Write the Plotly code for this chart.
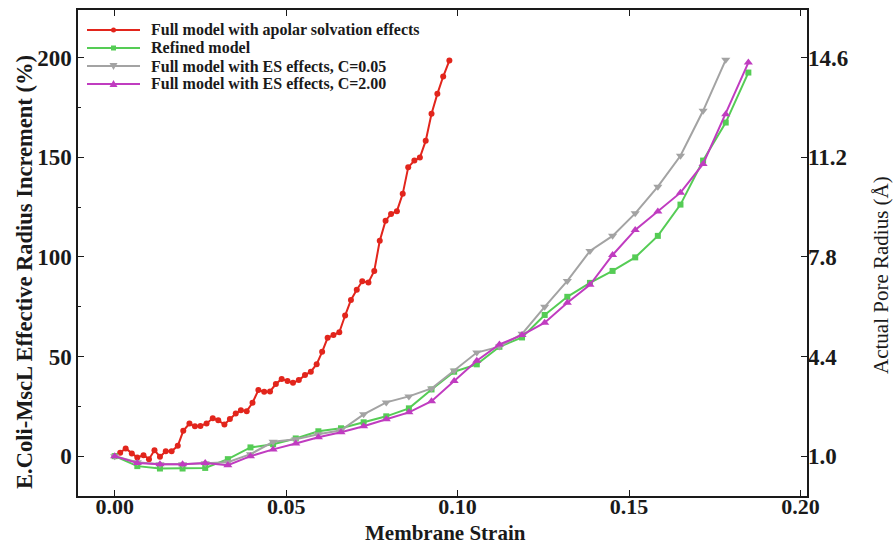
import plotly.graph_objects as go

# Full model with apolar solvation effects (red)
red_x = [0.0000, 0.0016, 0.0032, 0.0050, 0.0066, 0.0084, 0.0100, 0.0116, 0.0132, 0.0149,
         0.0166, 0.0184, 0.0200, 0.0218, 0.0234, 0.0250, 0.0268, 0.0286, 0.0302, 0.0320,
         0.0336, 0.0353, 0.0368, 0.0385, 0.0402, 0.0419, 0.0436, 0.0453, 0.0470, 0.0487,
         0.0504, 0.0520, 0.0537, 0.0555, 0.0572, 0.0589, 0.0605, 0.0621, 0.0638, 0.0655,
         0.0672, 0.0689, 0.0706, 0.0722, 0.0740, 0.0757, 0.0773, 0.0790, 0.0806, 0.0823,
         0.0840, 0.0856, 0.0874, 0.0890, 0.0907, 0.0924, 0.0941, 0.0958, 0.0976]
red_y = [0.0, 1.7, 3.9, 1.4, -0.7, 0.5, -1.5, 3.0, -0.3, 2.5,
         2.5, 5.2, 12.7, 16.4, 15.0, 15.2, 16.4, 19.0, 18.0, 15.9,
         18.6, 21.4, 23.0, 22.6, 26.8, 33.2, 32.3, 32.5, 36.2, 38.8,
         37.7, 36.8, 38.2, 40.7, 42.4, 46.2, 52.4, 59.4, 60.8, 62.2,
         70.6, 78.4, 83.6, 87.8, 87.2, 93.0, 108.1, 118.2, 121.6, 123.0,
         131.7, 145.0, 148.4, 149.9, 158.3, 171.9, 181.9, 190.6, 198.6]

# shared strain grid for the other three models
strain = [0.0000, 0.0066, 0.0132, 0.0198, 0.0264, 0.0330, 0.0396, 0.0462, 0.0528, 0.0594,
          0.0660, 0.0726, 0.0792, 0.0858, 0.0924, 0.0990, 0.1056, 0.1122, 0.1188, 0.1254,
          0.1320, 0.1386, 0.1452, 0.1518, 0.1584, 0.1650, 0.1716, 0.1782, 0.1848]

green_y = [0.0, -5.0, -6.2, -6.2, -5.9, -1.5, 4.4, 6.0, 8.9, 12.5,
           14.0, 17.0, 20.0, 24.0, 33.5, 42.4, 46.1, 54.9, 59.6, 70.9,
           80.0, 87.0, 93.0, 99.8, 110.6, 126.3, 148.4, 167.5, 192.6]

gray_y = [0.0, -3.0, -4.0, -4.0, -3.5, -3.0, 1.0, 7.2, 8.5, 11.0,
          13.0, 21.0, 27.0, 30.0, 34.0, 43.0, 52.0, 55.0, 61.4, 75.0,
          88.0, 103.0, 110.6, 121.9, 135.3, 150.8, 173.4, 199.0]

magenta_y = [0.0, -3.4, -4.0, -4.0, -3.4, -4.5, 0.0, 3.4, 6.4, 9.5,
             12.0, 15.0, 18.5, 22.0, 27.6, 37.7, 47.9, 56.1, 60.8, 67.0,
             77.0, 86.0, 101.0, 113.6, 122.8, 132.3, 146.7, 171.7, 197.6]

names = ["Full model with apolar solvation effects", "Refined model",
         "Full model with ES effects, C=0.05", "Full model with ES effects, C=2.00"]
colors = ["#E2251C", "#55CC55", "#A3A3A3", "#C03CC0"]
symbols = ["circle", "square", "triangle-down", "triangle-up"]

left_ticks = [0, 50, 100, 150, 200]
right_ticks = [1.0, 4.4, 7.8, 11.2, 14.6]
x_ticks = [0.00, 0.05, 0.10, 0.15, 0.20]

y_range = [-20, 224]
# right axis: radius = 1.0 + 0.068 * increment
right_range = [1.0 + 0.068 * y_range[0], 1.0 + 0.068 * y_range[1]]

FONT = "Liberation Serif"
INK = "#1a1a1a"

# plot-area geometry (pixels) used for placing the hand-made legend and titles
W, H = 894, 546
ML, MR, MT, MB = 78, 87, 10, 50
PW, PH = W - ML - MR, H - MT - MB


def fx(px):
    return (px - ML) / PW


def fy(py):
    return (H - MB - py) / PH


fig = go.Figure()
xs = [red_x, strain, strain[:len(gray_y)], strain]
ys = [red_y, green_y, gray_y, magenta_y]
msizes = [6, 6, 8, 8]
for i in range(4):
    fig.add_trace(go.Scatter(x=xs[i], y=ys[i], mode="lines+markers", name=names[i],
                             line=dict(color=colors[i], width=2),
                             marker=dict(symbol=symbols[i], size=msizes[i], color=colors[i]),
                             showlegend=False))
# invisible trace to activate right axis
fig.add_trace(go.Scatter(x=[strain[0]], y=[right_ticks[0]], yaxis="y2", mode="markers",
                         marker=dict(opacity=0), showlegend=False, hoverinfo="skip"))

# legend (drawn by hand to match the compact row spacing of the original)
legend_rows = [30, 48, 66, 84]
shapes = []
annotations = []
marker_paths = {
    "triangle-down": "M-4,3 L4,3 L0,-4 Z",
    "triangle-up": "M-4,-3 L4,-3 L0,4 Z",
}
for i, row in enumerate(legend_rows):
    yy = fy(row)
    shapes.append(dict(type="line", xref="paper", yref="paper", x0=fx(87), x1=fx(140),
                       y0=yy, y1=yy, line=dict(color=colors[i], width=2)))
    common = dict(xref="paper", yref="paper", xsizemode="pixel", ysizemode="pixel",
                  xanchor=fx(113.5), yanchor=yy, fillcolor=colors[i],
                  line=dict(color=colors[i], width=0))
    if symbols[i] == "circle":
        shapes.append(dict(type="circle", x0=-2.5, x1=2.5, y0=-2.5, y1=2.5, **common))
    elif symbols[i] == "square":
        shapes.append(dict(type="rect", x0=-2.5, x1=2.5, y0=-2.5, y1=2.5, **common))
    else:
        shapes.append(dict(type="path", path=marker_paths[symbols[i]], **common))
    annotations.append(dict(text="<b>%s</b>" % names[i], xref="paper", yref="paper",
                            x=fx(150), y=yy, xanchor="left", yanchor="middle",
                            showarrow=False, borderpad=0,
                            font=dict(family=FONT, size=16, color=INK)))

# axis titles
annotations.append(dict(text="<b>E.Coli-MscL Effective Radius Increment (%)</b>",
                        textangle=-90, xref="paper", yref="paper", x=fx(24), y=fy(272),
                        xanchor="center", yanchor="middle", showarrow=False, borderpad=0,
                        font=dict(family=FONT, size=22.5, color=INK)))
annotations.append(dict(text="Actual Pore Radius (Å)",
                        textangle=-90, xref="paper", yref="paper", x=fx(881), y=fy(275),
                        xanchor="center", yanchor="middle", showarrow=False, borderpad=0,
                        font=dict(family=FONT, size=21, color=INK)))
annotations.append(dict(text="<b>Membrane Strain</b>",
                        xref="paper", yref="paper", x=fx(445), y=fy(533),
                        xanchor="center", yanchor="middle", showarrow=False, borderpad=0,
                        font=dict(family=FONT, size=21, color=INK)))

tick_font = dict(family=FONT, size=23, weight="bold", color=INK)
x_tick_font = dict(family=FONT, size=22, weight="bold", color=INK)
fig.update_layout(
    width=W, height=H,
    margin=dict(l=ML, r=MR, t=MT, b=MB),
    plot_bgcolor="white", paper_bgcolor="white",
    font=dict(family=FONT, color=INK),
    showlegend=False,
    xaxis=dict(range=[-0.0107, 0.2019], tickvals=x_ticks,
               ticktext=["%.2f" % v for v in x_ticks],
               ticks="inside", ticklen=6, tickwidth=1.3, tickcolor=INK,
               showline=True, linecolor=INK, linewidth=1.5, mirror="ticks",
               showgrid=False, zeroline=False, tickfont=x_tick_font, automargin=False,
               ticklabelstandoff=-10),
    yaxis=dict(range=y_range, tickvals=left_ticks,
               ticks="inside", ticklen=6, tickwidth=1.3, tickcolor=INK,
               minor=dict(tickvals=[-25, 25, 75, 125, 175, 225], ticks="inside",
                          ticklen=3, tickcolor=INK),
               showline=True, linecolor=INK, linewidth=1.5, mirror=True,
               showgrid=False, zeroline=False, tickfont=tick_font, automargin=False),
    yaxis2=dict(range=right_range, tickvals=right_ticks,
                ticktext=["%.1f" % v for v in right_ticks],
                overlaying="y", side="right", automargin=False,
                ticks="inside", ticklen=6, tickwidth=1.3, tickcolor=INK,
                showline=False, showgrid=False, zeroline=False, tickfont=tick_font),
    shapes=shapes,
    annotations=annotations,
)

fig.write_html("out.html")
